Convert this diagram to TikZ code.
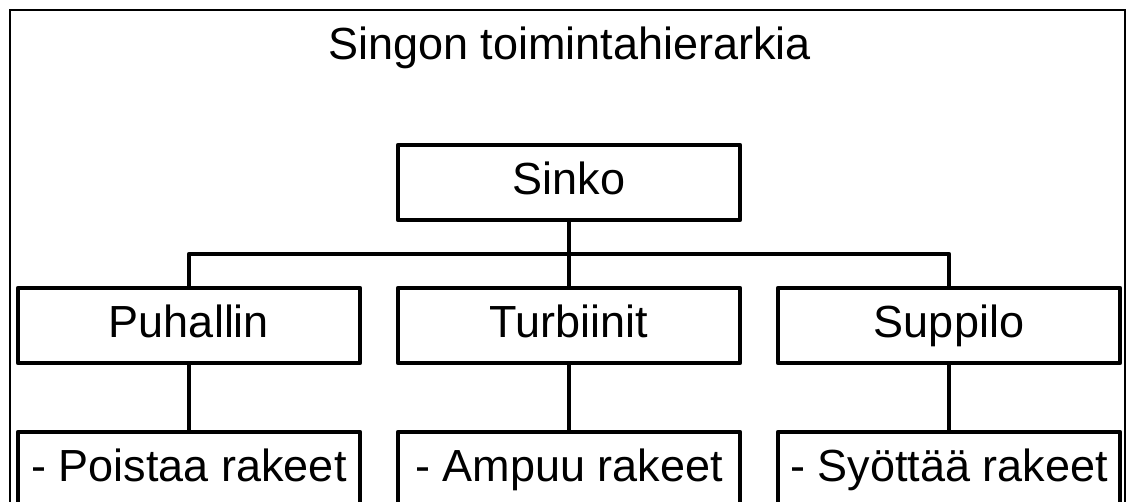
\documentclass[tikz,border=0pt]{standalone}
\usepackage{fontspec}
\setmainfont{Liberation Sans}
\usetikzlibrary{positioning,calc}
\tikzstyle{link}=[line width=4.5pt, line join=round]
\tikzstyle{frame}=[line width=2pt]

\begin{document}
\begin{tikzpicture}[x=1pt,y=1pt,node distance=68pt and 38pt,
  part/.style={rectangle,draw=black,line width=4.5pt,line join=round,
    minimum width=342pt,minimum height=75pt,inner sep=0pt,outer sep=0pt,
    text height=32pt,text depth=8pt,font=\fontsize{45}{54}\selectfont}]
\useasboundingbox (0,0) rectangle (1128,-502);
\clip (0,0) rectangle (1128,-502);
\draw[frame] (10,-10) rectangle (1125,-540);
\node[anchor=base,font=\fontsize{45}{54}\selectfont] (title) at (569.5,-60) {Singon toimintahierarkia};
\node[part] (sinko) at (569,-182.5) {Sinko};
\node[part,below=of sinko] (turb) {Turbiinit};
\node[part,left=of turb] (puh) {Puhallin};
\node[part,right=of turb] (supp) {Suppilo};
\node[part,below=69pt of puh] (poist) {- Poistaa rakeet};
\node[part,below=69pt of turb] (ammu) {- Ampuu rakeet};
\node[part,below=69pt of supp] (syota) {- Syöttää rakeet};
\coordinate (bus) at ($(sinko.south)!0.5!(turb.north)$);
\draw[link] (sinko)--(turb);
\draw[link] (puh.north) |- (bus) -| (supp.north);
\draw[link] (puh)--(poist); \draw[link] (turb)--(ammu);
\draw[link] (supp)--(syota);
\end{tikzpicture}
\end{document}
